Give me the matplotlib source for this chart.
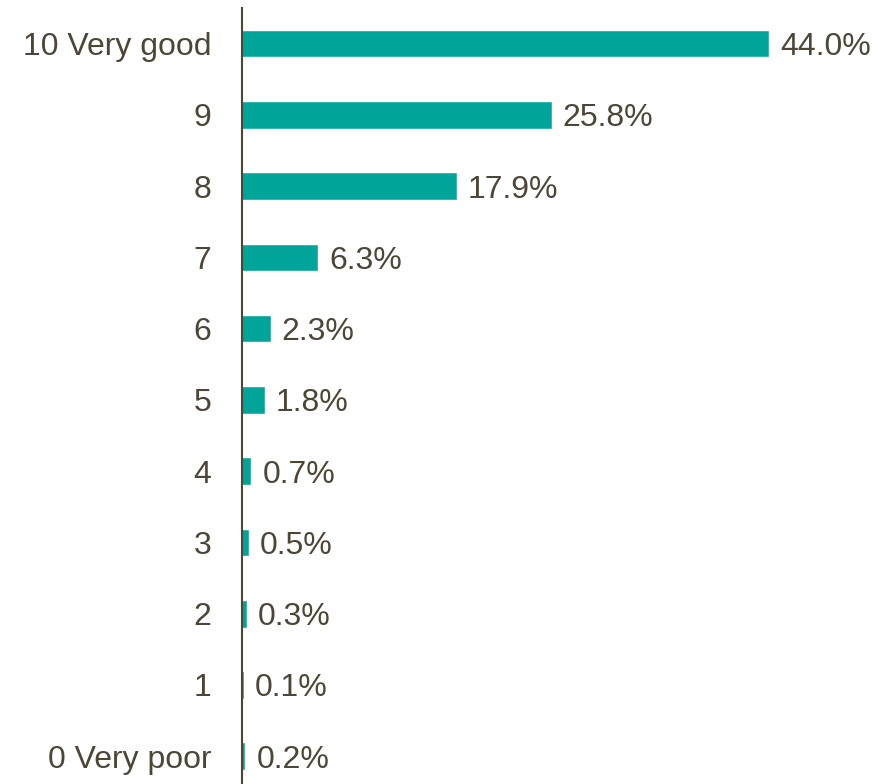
import matplotlib.pyplot as plt

categories = ['0 Very poor', '1', '2', '3', '4', '5', '6', '7', '8', '9', '10 Very good']
values = [0.2, 0.1, 0.3, 0.5, 0.7, 1.8, 2.3, 6.3, 17.9, 25.8, 44.0]

teal = '#00A499'
text_color = '#4D4637'

plt.rcParams['font.family'] = ['Liberation Sans', 'DejaVu Sans']

fig = plt.figure(figsize=(8.95, 7.84), dpi=100)
ax = fig.add_axes([242 / 895, 0, 653 / 895, 776 / 784])

pos = list(range(len(categories)))
ax.barh(pos, values, height=0.36, color=teal, edgecolor=teal, linewidth=0.4)

for y, v in zip(pos, values):
    ax.text(v + 1.0, y, f'{v:.1f}%', va='center_baseline', ha='left',
            fontsize=23, color=text_color)

ax.set_yticks(pos)
ax.set_yticklabels(categories, fontsize=23, color=text_color,
                   va='center_baseline')
ax.tick_params(axis='y', length=0, pad=22)
ax.set_xticks([])
ax.set_xlim(0, 54.6)
ax.set_ylim(-0.39, 10.5)

for side in ['top', 'right', 'bottom']:
    ax.spines[side].set_visible(False)
ax.spines['left'].set_color(text_color)
ax.spines['left'].set_linewidth(1.5)
ax.spines['left'].set_zorder(3)

fig.savefig('out.png', dpi=100)
